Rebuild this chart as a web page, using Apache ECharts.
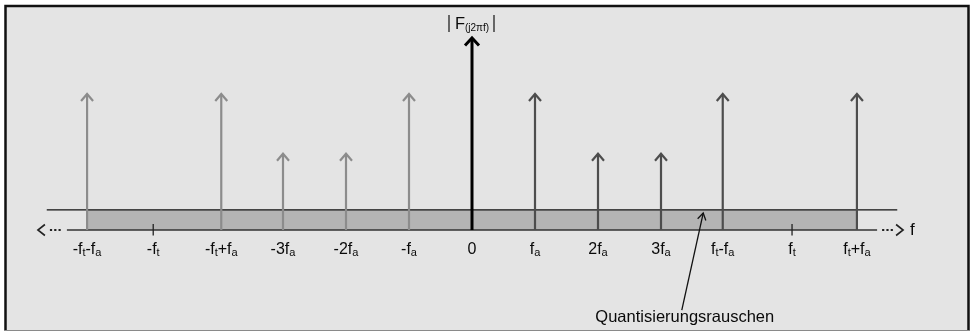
<!DOCTYPE html>
<html>
<head>
<meta charset="utf-8">
<script src="https://cdn.jsdelivr.net/npm/echarts@6/dist/echarts.min.js"></script>
<style>html,body{margin:0;padding:0;background:#fff;}#c{width:974px;height:332px;}</style>
</head>
<body>
<div id="c"></div>
<script>
// ---- data (x in units of fa, amplitude normalised to the centre line) ----
const tickPos = [-6.11, -5.06, -3.98, -3, -2, -1, 0, 1, 2, 3, 3.98, 5.08, 6.11];
const tickLabels = ['-f{s|t}-f{s|a}', '-f{s|t}', '-f{s|t}+f{s|a}', '-3f{s|a}', '-2f{s|a}', '-f{s|a}', '0',
                    'f{s|a}', '2f{s|a}', '3f{s|a}', 'f{s|t}-f{s|a}', 'f{s|t}', 'f{s|t}+f{s|a}'];
const stemX = [-6.11, -3.98, -3, -2, -1, 0, 1, 2, 3, 3.98, 6.11];
const stemY = [0.71, 0.71, 0.40, 0.40, 0.71, 1.0, 0.71, 0.40, 0.40, 0.71, 0.71];
const minorTicks = [-5.06, 5.08];
const noiseLevel = [0.104];
const noiseRange = [-6.11, 6.11];
const noiseLineRange = [-6.75, 6.75];
const axisRange = [-6.43, 6.43];
const titleText = '{F|F}{s|(j2πf)}';
const noteText = 'Quantisierungsrauschen';
const notePoint = [3.33, -0.415];
const noteTarget = [3.67, 0.088];

const FONT = '"Liberation Sans", Arial, Helvetica, sans-serif';
const TXT = '#0a0a0a';
const chart = echarts.init(document.getElementById('c'), null, {renderer: 'canvas'});

function chevron(p, dir, aw, ah) { // dir: 'up','left','right'
  if (dir === 'up') return [[p[0] - aw, p[1] + ah], p, [p[0] + aw, p[1] + ah]];
  if (dir === 'left') return [[p[0] + ah, p[1] - aw], p, [p[0] + ah, p[1] + aw]];
  return [[p[0] - ah, p[1] - aw], p, [p[0] - ah, p[1] + aw]];
}

const option = {
  animation: false,
  backgroundColor: '#ffffff',
  grid: {left: 31, width: 882, top: 17.7, height: 308.8},
  xAxis: {type: 'value', min: -7, max: 7, show: false},
  yAxis: {type: 'value', min: -0.5, max: 1.1, show: false},
  graphic: [
    {type: 'rect', z: -10, shape: {x: 5.5, y: 6, width: 963, height: 324.5}, style: {fill: '#e4e4e4'}},
    {type: 'polyline', z: -9, shape: {points: [[5.5, 331], [5.5, 6], [968.5, 6], [968.5, 331]]},
     style: {stroke: '#111', lineWidth: 2.5, fill: null}},
    {type: 'line', z: -9, shape: {x1: 4, y1: 330.5, x2: 970, y2: 330.5},
     style: {stroke: '#8a8a8a', lineWidth: 1.2}}
  ],
  series: [
    { // noise band
      type: 'line', silent: true, symbol: 'none', z: 1,
      data: [[noiseRange[0], noiseLevel[0]], [noiseRange[1], noiseLevel[0]]],
      lineStyle: {width: 0}, areaStyle: {color: '#b4b4b4', opacity: 1, origin: 0}
    },
    { // noise top line
      type: 'line', silent: true, symbol: 'none', z: 2,
      data: [[noiseLineRange[0], noiseLevel[0]], [noiseLineRange[1], noiseLevel[0]]],
      lineStyle: {color: '#111', width: 1.2}
    },
    { // frequency axis with dotted continuation and arrows
      type: 'custom', silent: true, z: 3,
      data: [[axisRange[0], axisRange[1]]],
      renderItem: function (params, api) {
        const a = api.coord([api.value(0), 0]);
        const b = api.coord([api.value(1), 0]);
        const y = a[1];
        const ch = [
          {type: 'line', shape: {x1: a[0], y1: y, x2: b[0], y2: y}, style: {stroke: '#333', lineWidth: 1.6}}
        ];
        for (let i = 0; i < 3; i++) {
          ch.push({type: 'rect', shape: {x: a[0] - 17 + i * 4.3, y: y - 1, width: 2.2, height: 2}, style: {fill: '#222'}});
          ch.push({type: 'rect', shape: {x: b[0] + 5 + i * 4.3, y: y - 1, width: 2.2, height: 2}, style: {fill: '#222'}});
        }
        ch.push({type: 'polyline', shape: {points: chevron([a[0] - 29, y], 'left', 5.5, 7)}, style: {stroke: '#222', lineWidth: 1.6, fill: null}});
        ch.push({type: 'polyline', shape: {points: chevron([b[0] + 26, y], 'right', 5.5, 7)}, style: {stroke: '#222', lineWidth: 1.6, fill: null}});
        ch.push({type: 'text', style: {x: b[0] + 33, y: y, text: 'f', font: '17px ' + FONT, fill: TXT, textVerticalAlign: 'middle', textAlign: 'left'}});
        return {type: 'group', children: ch};
      }
    },
    { // minor ticks at ±ft
      type: 'custom', silent: true, z: 4,
      data: minorTicks.map(function (x) { return [x]; }),
      renderItem: function (params, api) {
        const p = api.coord([api.value(0), 0]);
        return {type: 'line', shape: {x1: p[0], y1: p[1] - 6, x2: p[0], y2: p[1] + 5.5}, style: {stroke: '#222', lineWidth: 1.3}};
      }
    },
    { // spectral lines
      type: 'custom', silent: true, z: 5,
      data: stemX.map(function (x, i) { return [x, stemY[i]]; }),
      renderItem: function (params, api) {
        const x = api.value(0), v = api.value(1);
        const p0 = api.coord([x, 0]), p1 = api.coord([x, v]);
        const center = x === 0;
        const color = center ? '#000' : (x < 0 ? '#8c8c8c' : '#4d4d4d');
        const w = center ? 3 : 2.2;
        const aw = center ? 7 : 6, ah = center ? 7.5 : 7;
        return {type: 'group', children: [
          {type: 'line', shape: {x1: p0[0], y1: p0[1], x2: p1[0], y2: p1[1] + 1}, style: {stroke: color, lineWidth: w}},
          {type: 'polyline', shape: {points: chevron([p1[0], p1[1] + 1], 'up', aw, ah)}, style: {stroke: color, lineWidth: w, fill: null}}
        ]};
      }
    },
    { // tick labels
      type: 'custom', silent: true, z: 6,
      data: tickPos.map(function (x, i) { return [x, i]; }),
      renderItem: function (params, api) {
        const p = api.coord([api.value(0), 0]);
        return {type: 'text', style: {
          x: p[0], y: p[1] + 20, text: tickLabels[api.value(1)],
          textAlign: 'center', textVerticalAlign: 'middle',
          fill: TXT, fontFamily: FONT, fontSize: 16,
          rich: {
            s: {fontSize: 11, fontFamily: FONT, fill: TXT, verticalAlign: 'bottom', lineHeight: 10}
          }
        }};
      }
    },
    { // |F(j2πf)| label
      type: 'custom', silent: true, z: 6,
      data: [[0, 1.0]],
      renderItem: function (params, api) {
        const p = api.coord([api.value(0), api.value(1)]);
        return {type: 'group', children: [
          {type: 'line', shape: {x1: p[0] - 23, y1: p[1] - 22, x2: p[0] - 23, y2: p[1] - 5}, style: {stroke: '#222', lineWidth: 1.3}},
          {type: 'line', shape: {x1: p[0] + 22, y1: p[1] - 22, x2: p[0] + 22, y2: p[1] - 5}, style: {stroke: '#222', lineWidth: 1.3}},
          {type: 'text', style: {
            x: p[0], y: p[1] - 13, text: titleText, textAlign: 'center', textVerticalAlign: 'middle',
            fill: TXT, fontFamily: FONT, fontSize: 16,
            rich: {
              F: {fontSize: 16.5, fontFamily: FONT, fill: TXT, verticalAlign: 'bottom', lineHeight: 18},
              s: {fontSize: 10, fontFamily: FONT, fill: TXT, verticalAlign: 'bottom', lineHeight: 10}
            }
          }}
        ]};
      }
    },
    { // annotation
      type: 'custom', silent: true, z: 7,
      data: [[notePoint[0], notePoint[1], noteTarget[0], noteTarget[1]]],
      renderItem: function (params, api) {
        const a = api.coord([api.value(0), api.value(1)]);
        const b = api.coord([api.value(2), api.value(3)]);
        const ang = Math.atan2(b[1] - a[1], b[0] - a[0]);
        const L = 8, spread = 0.55;
        const l1 = [b[0] - L * Math.cos(ang - spread), b[1] - L * Math.sin(ang - spread)];
        const l2 = [b[0] - L * Math.cos(ang + spread), b[1] - L * Math.sin(ang + spread)];
        return {type: 'group', children: [
          {type: 'line', shape: {x1: a[0], y1: a[1], x2: b[0], y2: b[1]}, style: {stroke: '#111', lineWidth: 1.3}},
          {type: 'polyline', shape: {points: [l1, b, l2]}, style: {stroke: '#111', lineWidth: 1.3, fill: null}},
          {type: 'text', style: {x: a[0] + 3, y: a[1] + 7, text: noteText, textAlign: 'center', textVerticalAlign: 'middle',
            fill: TXT, fontFamily: FONT, fontSize: 16.5}}
        ]};
      }
    }
  ]
};
chart.setOption(option);
</script>
</body>
</html>
